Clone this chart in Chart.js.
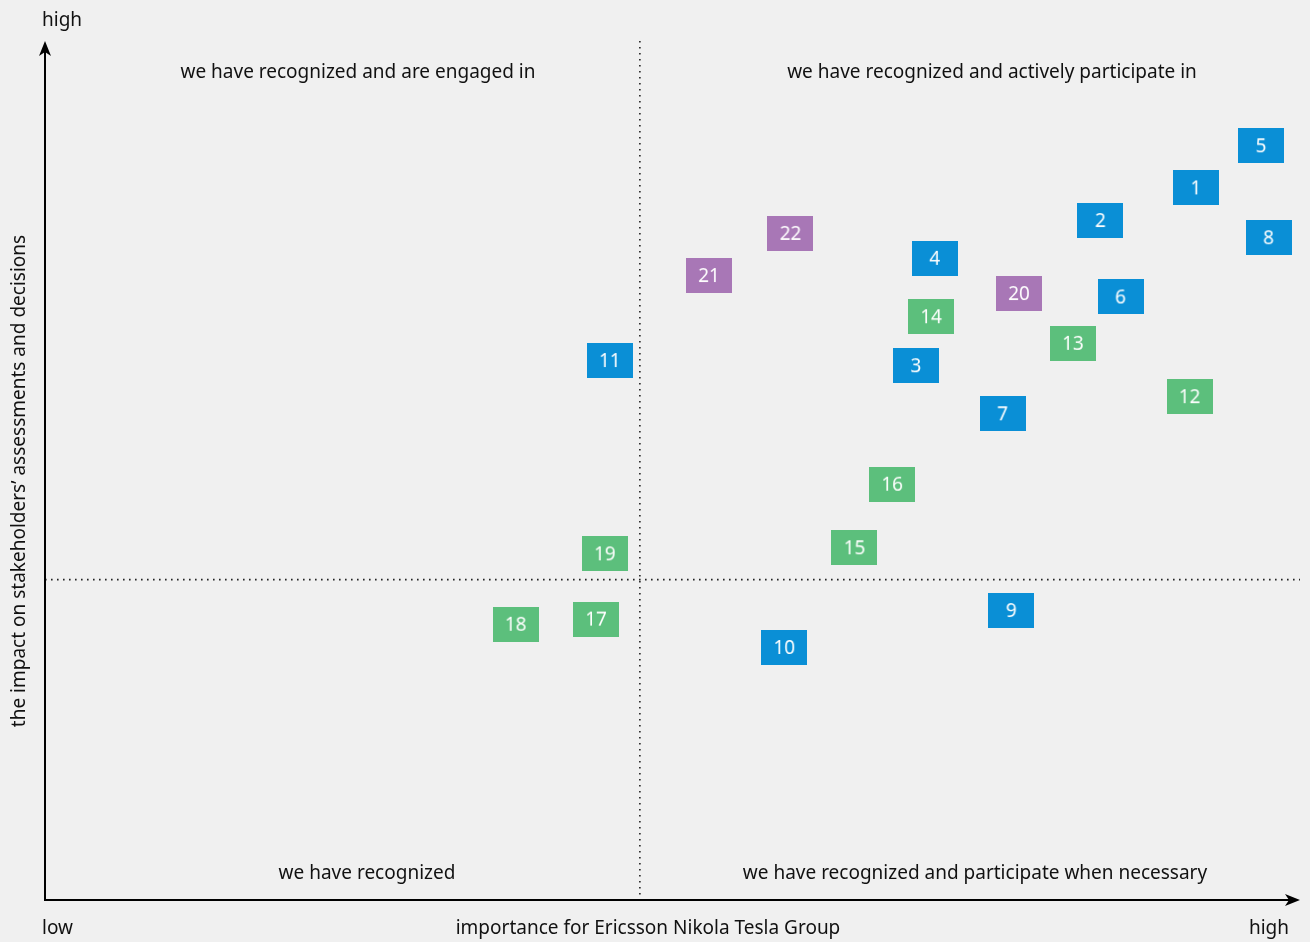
<!DOCTYPE html>
<html lang="en">
  <head>
    <meta charset="utf-8">
    <title>Stakeholder matrix</title>
    <script src="https://cdn.jsdelivr.net/npm/chart.js@4/dist/chart.umd.min.js"></script>
    <style>
      html, body { margin: 0; padding: 0; background: #f0f0f0; }
      #wrap { width: 1310px; height: 942px; }
    </style>
  </head>
  <body>
    <div id="wrap"><canvas id="chartCanvas" width="1310" height="942"></canvas></div>
    <script>
      // stakeholder number, importance (x), impact (y), group
      const ids        = [5, 1, 2, 8, 22, 4, 21, 20, 6, 14, 13, 11, 3, 12, 7, 16, 15, 19, 9, 17, 18, 10];
      const importance = [96.9, 91.7, 84.1, 97.5, 59.4, 70.9, 52.9, 77.6, 85.7, 70.6, 81.9, 45.0, 69.4, 91.2, 76.3, 67.5, 64.5, 44.6, 77.0, 43.9, 37.5, 58.9];
      const impact     = [87.8, 82.9, 79.1, 77.1, 77.6, 74.7, 72.7, 70.6, 70.2, 67.9, 64.8, 62.8, 62.2, 58.6, 56.6, 48.4, 41.0, 40.3, 33.7, 32.7, 32.1, 29.4];
      const groups     = ['b','b','b','b','p','b','p','p','b','g','g','b','b','g','b','g','g','g','b','g','g','b'];

      const groupColors = { b: '#0a8fd6', g: '#5cbf7c', p: '#a877b6' };
      const xSplit = 47.4, ySplit = 37.3;
      const quadrantLabels = ['we have recognized and are engaged in', 'we have recognized and actively participate in',
                              'we have recognized', 'we have recognized and participate when necessary'];
      const axisEnds = ['low', 'high'];
      const xTitle = 'importance for Ericsson Nikola Tesla Group';
      const yTitle = 'the impact on stakeholders\u2019 assessments and decisions';

      const FONT = '"Noto Sans", sans-serif';

      function makeBox(num, color) {
        const c = document.createElement('canvas');
        c.width = 46; c.height = 35;
        const g = c.getContext('2d');
        g.fillStyle = color;
        g.fillRect(0, 0, 46, 35);
        g.fillStyle = '#ffffff';
        g.font = '19px ' + FONT;
        g.textAlign = 'center';
        g.textBaseline = 'middle';
        g.fillText(String(num), 23, 19);
        return c;
      }

      const points = ids.map((id, i) => ({ x: importance[i], y: impact[i] }));
      const styles = ids.map((id, i) => makeBox(id, groupColors[groups[i]]));

      function arrowHead(ctx, x, y, dir) {
        ctx.save();
        ctx.translate(x, y);
        ctx.rotate(dir);
        ctx.beginPath();
        ctx.moveTo(0, 0);
        ctx.lineTo(-15, -6);
        ctx.lineTo(-11, 0);
        ctx.lineTo(-15, 6);
        ctx.closePath();
        ctx.fillStyle = '#000';
        ctx.fill();
        ctx.restore();
      }

      const decor = {
        id: 'decor',
        beforeDatasetsDraw(chart) {
          const ctx = chart.ctx;
          const xs = chart.scales.x, ys = chart.scales.y;
          const x0 = xs.getPixelForValue(0), x1 = xs.getPixelForValue(100);
          const y0 = ys.getPixelForValue(0), y1 = ys.getPixelForValue(100);
          const xm = xs.getPixelForValue(xSplit), ym = ys.getPixelForValue(ySplit);

          // dotted quadrant lines
          ctx.save();
          ctx.strokeStyle = '#222';
          ctx.lineWidth = 1.6;
          ctx.setLineDash([1.6, 4.4]);
          ctx.beginPath();
          ctx.moveTo(xm, y1); ctx.lineTo(xm, y0);
          ctx.moveTo(x0, ym); ctx.lineTo(x1, ym);
          ctx.stroke();
          ctx.restore();

          // axes
          ctx.save();
          ctx.strokeStyle = '#000';
          ctx.lineWidth = 2;
          ctx.beginPath();
          ctx.moveTo(x0, y1 + 8); ctx.lineTo(x0, y0); ctx.lineTo(x1 - 8, y0);
          ctx.stroke();
          arrowHead(ctx, x0, y1, -Math.PI / 2);
          arrowHead(ctx, x1, y0, 0);
          ctx.restore();

          // text
          ctx.save();
          ctx.fillStyle = '#111';
          ctx.font = '19px ' + FONT;
          ctx.textBaseline = 'middle';
          ctx.textAlign = 'center';
          ctx.fillText(quadrantLabels[0], 358, y1 + 32);
          ctx.fillText(quadrantLabels[1], 992, y1 + 32);
          ctx.fillText(quadrantLabels[2], 367, y0 - 26);
          ctx.fillText(quadrantLabels[3], 975, y0 - 26);
          ctx.fillText(xTitle, 648, 929);
          ctx.textAlign = 'left';
          ctx.fillText(axisEnds[1], 42, 21);
          ctx.fillText(axisEnds[0], 42, 929);
          ctx.textAlign = 'right';
          ctx.fillText(axisEnds[1], 1289, 929);
          ctx.translate(20, 481);
          ctx.rotate(-Math.PI / 2);
          ctx.textAlign = 'center';
          ctx.fillText(yTitle, 0, 0);
          ctx.restore();
        }
      };

      new Chart(document.getElementById('chartCanvas'), {
        type: 'scatter',
        data: {
          datasets: [{
            data: points,
            pointStyle: styles,
            clip: false
          }]
        },
        options: {
          responsive: false,
          animation: false,
          layout: { padding: { left: 45, right: 10, top: 41, bottom: 42 } },
          scales: {
            x: { display: false, min: 0, max: 100 },
            y: { display: false, min: 0, max: 100 }
          },
          plugins: { legend: { display: false }, tooltip: { enabled: false } }
        },
        plugins: [decor]
      });
    </script>
  </body>
</html>
